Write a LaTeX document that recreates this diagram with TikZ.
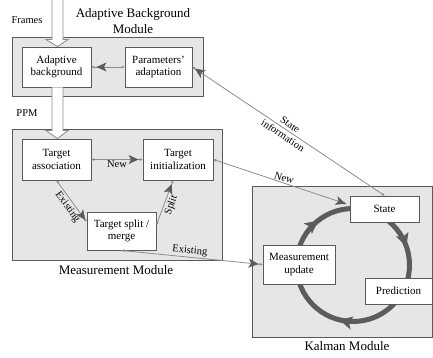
\documentclass[tikz,border=0pt]{standalone}
\usepackage{fontspec}
\setmainfont{Liberation Serif}
\usetikzlibrary{arrows.meta,decorations.markings,calc}
\definecolor{modfill}{HTML}{E6E6E6}
\definecolor{modline}{HTML}{5A5A5A}
\definecolor{lnk}{HTML}{8C8C8C}
\definecolor{tipc}{HTML}{5C5C5C}
\begin{document}
\begin{tikzpicture}[x=1pt,y=-1pt,
  module/.style={draw=modline,fill=modfill,line width=0.9pt},
  blk/.style={draw=modline,fill=white,line width=0.9pt,align=center,
    font=\fontsize{11}{12.5}\selectfont,inner sep=0pt},
  lbl/.style={font=\fontsize{10.5}{11.5}\selectfont,inner sep=1pt},
  ttl/.style={font=\fontsize{13}{16}\selectfont,align=center,inner sep=0pt},
  link/.style={draw=lnk,line width=0.8pt,
    {Stealth[length=3pt,width=3pt]}-{Stealth[length=3pt,width=3pt]}},
  bigfwd/.style={postaction={decorate,decoration={markings,
    mark=at position #1 with {\arrow{Stealth[length=10pt,width=9pt,inset=2.5pt,color=tipc]}}}}},
  bigbwd/.style={postaction={decorate,decoration={markings,
    mark=at position #1 with {\arrowreversed{Stealth[length=10pt,width=9pt,inset=2.5pt,color=tipc]}}}}},
  hollow/.style={draw=lnk,fill=white,line width=0.8pt},
]
\useasboundingbox (0,0) rectangle (433,357);

% module boxes
\draw[module] (12,37) rectangle (203,96);
\draw[module] (12,129) rectangle (222,260);
\draw[module] (252,186) rectangle (432,337);

% titles
\node[ttl] (tABM) at (133,21) {Adaptive Background\\Module};
\node[ttl] (tMM) at (116,270) {Measurement Module};
\node[ttl] (tKM) at (347,346) {Kalman Module};
\node[lbl] (frames) at (27,20) {Frames};
\node[lbl] (ppm) at (27,113) {PPM};

% Kalman cycle
\draw[line width=5pt,draw=tipc,postaction={decorate},
  decoration={markings,
    mark=at position 0.289 with {\arrow{Stealth[length=13pt,width=13pt,inset=3pt,color=tipc]}},
    mark=at position 0.644 with {\arrow{Stealth[length=13pt,width=13pt,inset=3pt,color=tipc]}},
    mark=at position 0.947 with {\arrow{Stealth[length=13pt,width=13pt,inset=3pt,color=tipc]}}}]
  (353,265) circle[radius=56.5];

% blocks
\node[blk,minimum width=69pt,minimum height=40pt] (AB) at (56.5,67) {Adaptive\\background};
\node[blk,minimum width=67pt,minimum height=40pt] (PA) at (158.5,67) {Parameters'\\adaptation};
\node[blk,minimum width=69pt,minimum height=41pt] (TA) at (56.5,159.5) {Target\\association};
\node[blk,minimum width=70pt,minimum height=41pt] (TI) at (178,159.5) {Target\\initialization};
\node[blk,minimum width=69pt,minimum height=38pt] (TS) at (121.5,231) {Target split /\\merge};
\node[blk,minimum width=69pt,minimum height=26pt] (ST) at (384.5,209) {State};
\node[blk,minimum width=72pt,minimum height=39pt] (MU) at (299,264.5) {Measurement\\update};
\node[blk,minimum width=67pt,minimum height=26pt] (PR) at (398.5,291) {Prediction};

% hollow arrows
\coordinate (topin) at (57.5,0);
\draw[hollow] ($(topin)+(-5.5,0)$) -- ($(AB.north)+(-4.5,-7)$) -- ($(AB.north)+(-10.5,-7)$)
  -- ($(AB.north)+(1,0)$) -- ($(AB.north)+(11.5,-7)$) -- ($(AB.north)+(6.5,-7)$)
  -- ($(topin)+(5.5,0)$);
\draw[hollow] ($(AB.south)+(-4.5,0)$) -- ($(TA.north)+(-4.5,-8)$) -- ($(TA.north)+(-10.5,-8)$)
  -- ($(TA.north)+(1,0)$) -- ($(TA.north)+(11.5,-8)$) -- ($(TA.north)+(6.5,-8)$)
  -- ($(AB.south)+(6.5,0)$);

% links
\draw[link,bigbwd=5pt] (AB.east) -- (PA.west);
\draw[link,bigfwd=-4pt] (TA.east) -- (TI.west)
  node[lbl,pos=0.5,below,inner sep=0.5pt] {New};
\draw[link,bigfwd=-2pt] (TA.south) -- (TS.165)
  node[lbl,pos=0.55,sloped,below,inner sep=2pt] {Existing};
\draw[link,bigfwd=-4pt] ($(TS.east)+(0,-6)$) -- ($(TI.south)+(-5,0)$)
  node[lbl,pos=0.5,sloped,below,inner sep=2pt] {Split};
\draw[link,bigfwd=-4pt] (TS.south) -- (MU.west)
  node[lbl,pos=0.48,sloped,above] {Existing};
\coordinate (newend) at ($(ST.west)+(-3,-5)$);
\draw[link,bigfwd=-1pt] (TI.east) -- (newend)
  node[lbl,pos=0.52,sloped,above] {New};
\draw[link,bigbwd=3pt] (PA.east) -- (ST.north)
  node[lbl,pos=0.49,sloped,align=center,font=\fontsize{10.5}{13}\selectfont] {State\\information};
\end{tikzpicture}
\end{document}
